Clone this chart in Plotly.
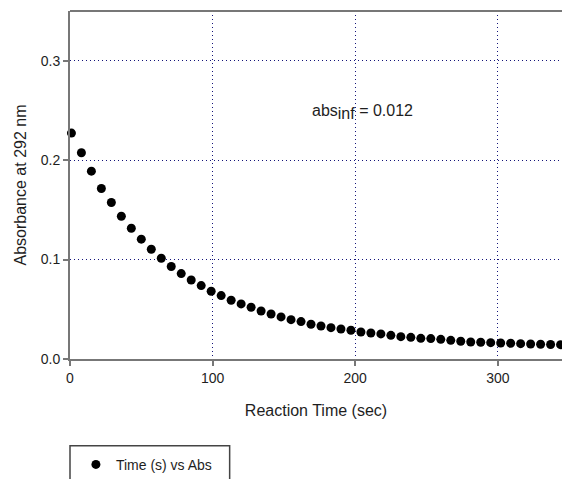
import plotly.graph_objects as go

time_s = [1, 8, 15, 22, 29, 36, 43, 50, 57, 64, 71, 78, 85, 92, 99, 106, 113, 120, 127, 134,
          141, 148, 155, 162, 169, 176, 183, 190, 197, 204, 211, 218, 225, 232, 239, 246, 253, 260, 267, 274,
          281, 288, 295, 302, 309, 316, 323, 330, 337, 344]
absorbance = [0.2272, 0.2074, 0.1889, 0.1715, 0.1574, 0.1436, 0.1315, 0.1205, 0.1104, 0.1013,
              0.0930, 0.0859, 0.0795, 0.0738, 0.0681, 0.0638, 0.0591, 0.0554, 0.0520, 0.0483,
              0.0453, 0.0423, 0.0396, 0.0376, 0.0349, 0.0332, 0.0315, 0.0302, 0.0289, 0.0272,
              0.0262, 0.0252, 0.0238, 0.0225, 0.0218, 0.0208, 0.0205, 0.0198, 0.0188, 0.0178,
              0.0171, 0.0168, 0.0164, 0.0161, 0.0158, 0.0154, 0.0151, 0.0148, 0.0146, 0.0144]
x_ticks = [0, 100, 200, 300]
y_ticks = [0.0, 0.1, 0.2, 0.3]
y_tick_labels = ["0.0", "0.1", "0.2", "0.3"]

FONT = "Arial, Liberation Sans, sans-serif"
TEXT_COLOR = "#1e1e1e"
AXIS_COLOR = "#777777"
GRID_COLOR = "#14147a"

fig = go.Figure()
fig.add_trace(go.Scatter(
    x=time_s, y=absorbance, mode="markers", name="Time (s) vs Abs",
    marker=dict(color="black", size=9, line=dict(width=0)),
    cliponaxis=False,
))

fig.update_layout(
    width=562, height=479,
    margin=dict(l=70, r=0, t=11, b=120, pad=0, autoexpand=False),
    paper_bgcolor="white", plot_bgcolor="white",
    font=dict(family=FONT, size=14, color=TEXT_COLOR),
    showlegend=True,
    legend=dict(x=0.012, y=-0.258, xanchor="left", yanchor="top",
                bgcolor="rgba(0,0,0,0)", borderwidth=0,
                font=dict(family=FONT, size=14, color=TEXT_COLOR)),
    xaxis=dict(
        range=[0, 345], tickvals=x_ticks, ticks="outside", ticklen=5, tickwidth=1.5,
        tickcolor=AXIS_COLOR, showline=True, linecolor=AXIS_COLOR, linewidth=2,
        mirror=False, zeroline=False,
        showgrid=True, gridcolor=GRID_COLOR, gridwidth=1, griddash="1px,3px",
        title=dict(text="Reaction Time (sec)", font=dict(size=16), standoff=20),
        tickfont=dict(size=14),
    ),
    yaxis=dict(
        range=[0, 0.35], tickvals=y_ticks, ticktext=y_tick_labels, ticks="outside",
        ticklen=5, tickwidth=1.5, tickcolor=AXIS_COLOR, showline=True,
        linecolor=AXIS_COLOR, linewidth=2, zeroline=False,
        showgrid=True, gridcolor=GRID_COLOR, gridwidth=1, griddash="1px,3px",
        title=dict(text="Absorbance at 292 nm", font=dict(size=16), standoff=10),
        tickfont=dict(size=14),
    ),
)

# top frame line
fig.add_shape(type="line", xref="paper", yref="paper", x0=0, x1=1, y0=1, y1=1,
              line=dict(color=AXIS_COLOR, width=2))

# legend box (extends below the visible page, as in the reference)
fig.add_shape(type="rect", xref="paper", yref="paper", x0=0, x1=0.3245, y0=-0.249, y1=-0.45,
              line=dict(color="#444444", width=1.5), fillcolor="rgba(0,0,0,0)")

fig.add_annotation(x=205, y=0.248, xref="x", yref="y", showarrow=False,
                   text="abs<sub><span style=\"font-size:16px\">inf</span></sub> = 0.012",
                   font=dict(family=FONT, size=16, color=TEXT_COLOR))

fig.write_html("out.html")
